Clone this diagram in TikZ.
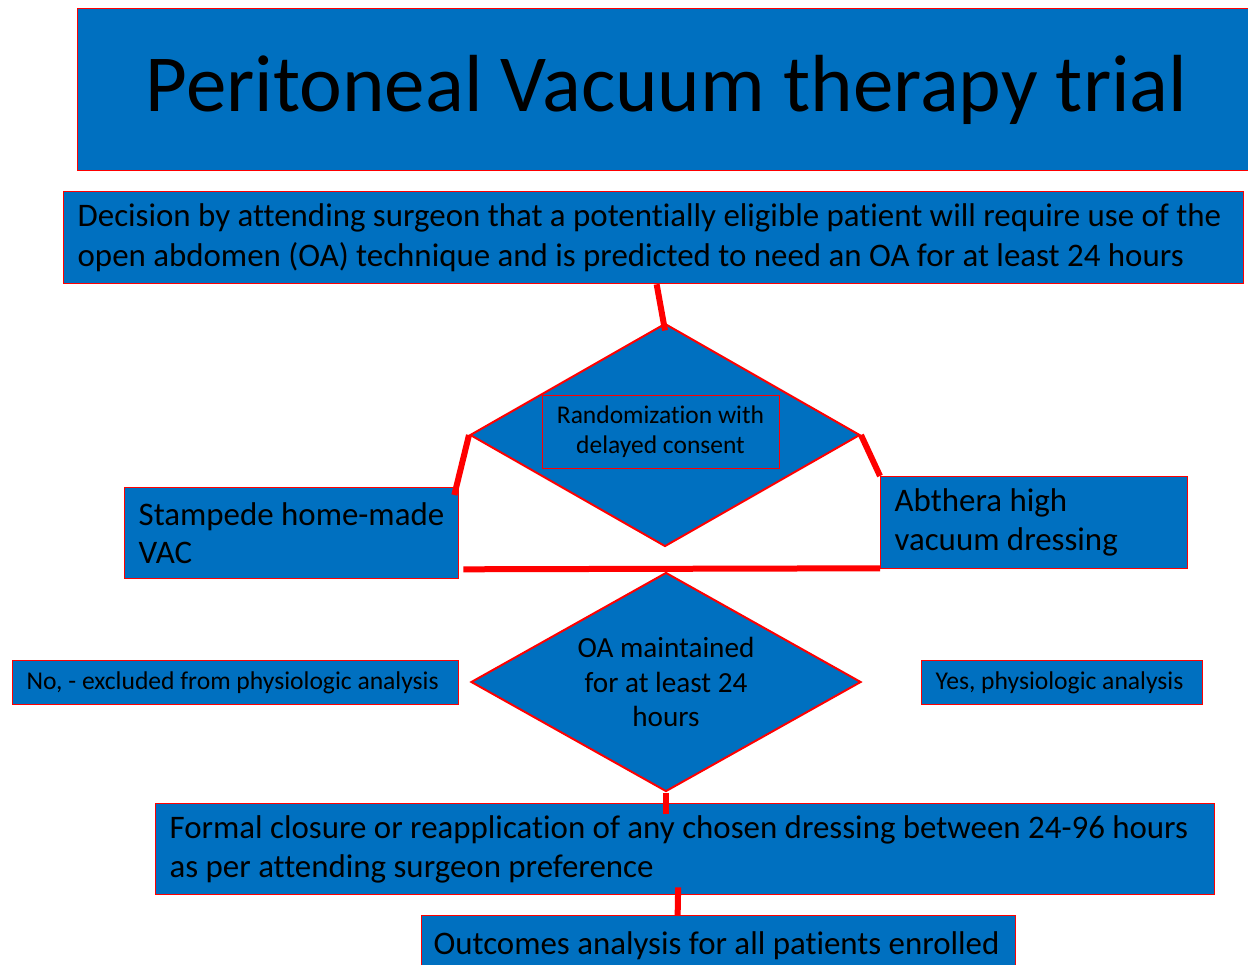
\documentclass[tikz,border=0pt]{standalone}
\usepackage{fontspec}
\setmainfont{Carlito}[Ligatures=NoCommon]
\usepackage{tikz}
\usetikzlibrary{shapes.geometric,calc}
\definecolor{vacblue}{RGB}{0,112,192}
\tikzset{
  bbox/.style={ draw=red, fill=vacblue, line width=1.3pt, anchor=north west, inner xsep=14pt, inner ysep=0pt, align=flush left }
}
\tikzset{
  dmd/.style={ draw=red, fill=vacblue, diamond, line width=2pt, inner sep=0pt, align=flush center }
}
\tikzset{
  conn/.style={ draw=red, line width=6pt }
}
\newcommand{\fsz}[2]{\fontsize{#1}{#2}\selectfont}

\begin{document}
\begin{tikzpicture}[x=1pt, y=-1pt]
      \clip (0,0) rectangle (1248,965);
      \fill[white] (0,0) rectangle (1248,965);
      \node[bbox, minimum width=1178pt, minimum height=162pt, align=flush center, text width=1150pt, font=\fsz{81}{90}] (title) at (77,8) {Peritoneal Vacuum therapy trial};
      \node[bbox, minimum width=1180pt, minimum height=92pt, text width=1152pt, font=\fsz{32.9}{40}] (decision) at (63,191)
        {Decision by attending surgeon that a potentially eligible patient will require use of the\\open abdomen (OA) technique and is predicted to need an OA for at least 24 hours};

      \node[dmd, minimum width=390pt, minimum height=223pt] (rand) at (665,435) {};
      \node[draw=red, fill=vacblue, line width=1pt, minimum width=237pt, minimum height=72pt, align=flush center, font=\fsz{25.5}{30}] (randtxt) at (660.5,432) {Randomization with\\delayed consent};

      \node[bbox, minimum width=334pt, minimum height=91pt, text width=306pt, font=\fsz{32.9}{38}] (stamp) at (124,487) {Stampede home-made\\VAC};
      \node[bbox, minimum width=307pt, minimum height=92pt, text width=279pt, font=\fsz{32.9}{39}] (abth) at (880,476) {Abthera high\\vacuum dressing};

      \draw[conn] ($(decision.south)+(3,0)$) -- ($(rand.north)+(0,8)$);
      \draw[conn] (rand.west) -- ($(stamp.north east)+(-5,8)$);
      \draw[conn] (rand.east) -- ($(abth.north west)+(0,0)$);
      \draw[conn] ($(stamp.south east)+(4,-10)$) -- ($(abth.south west)+(0,-1)$);

      \node[dmd, minimum width=390pt, minimum height=219pt] (oa) at (666,682) {};
      \node[align=flush center, inner sep=0pt, font=\fsz{29.2}{34.5}] (oatxt) at (oa.center) {OA maintained\\for at least 24\\hours};
      \node[bbox, minimum width=446pt, minimum height=44pt, text width=418pt, font=\fsz{25.6}{28}] (no) at (12,660) {No, - excluded from physiologic analysis};
      \node[bbox, minimum width=281pt, minimum height=44pt, text width=253pt, font=\fsz{25.6}{28}] (yes) at (921,660) {Yes, physiologic analysis};

      \node[bbox, minimum width=1059pt, minimum height=91pt, text width=1031pt, font=\fsz{32.9}{39}] (formal) at (155,803)
        {Formal closure or reapplication of any chosen dressing between 24-96 hours\\as per attending surgeon preference};
      \node[bbox, minimum width=594pt, minimum height=60pt, inner xsep=12pt, text width=570pt, font=\fsz{32.9}{39}] (outc) at (421,915) {Outcomes analysis for all patients enrolled};

      \draw[conn] (oa.south) -- ($(oa.south)+(0,21)$);
      \draw[conn] ($(formal.south)+(-7,-8)$) -- ($(outc.north)+(-41,0)$);
    \end{tikzpicture}
\end{document}
